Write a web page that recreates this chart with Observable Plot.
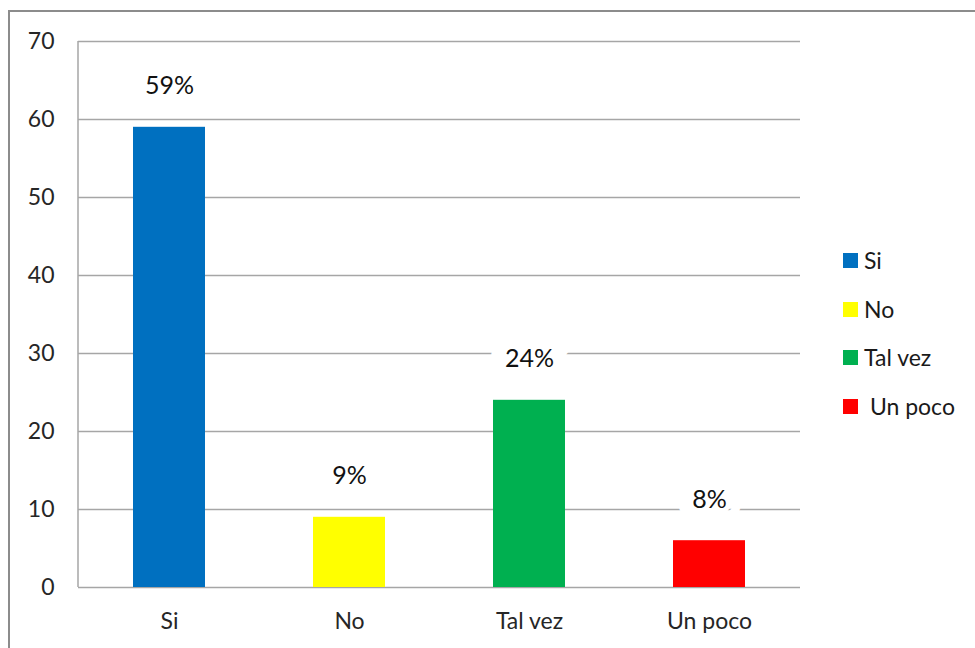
<!DOCTYPE html>
<html>
<head>
<meta charset="utf-8">
<script src="https://cdn.jsdelivr.net/npm/d3@7"></script>
<script src="https://cdn.jsdelivr.net/npm/@observablehq/plot@0.6"></script>
<style>
  html, body { margin: 0; padding: 0; background: #fff; }
  #wrap { position: relative; width: 975px; height: 648px; overflow: hidden; font-family: Lato, "Open Sans", sans-serif; }
  #frame { position: absolute; left: 8px; top: 10px; width: 1000px; height: 700px; border-left: 2px solid #8c8c8c; border-top: 2px solid #8c8c8c; box-sizing: border-box; }
  #chart { position: absolute; left: 0; top: 0; }
  #legend { position: absolute; left: 843px; top: 248px; width: 130px; }
  .lg-swatches { font-family: Lato, "Open Sans", sans-serif !important; font-size: 23px !important; color: #1a1a1a !important; }
  .lg-swatch { height: 48.5px !important; padding: 0 !important; margin: 0 !important; display: flex !important; align-items: flex-start !important; line-height: 24px !important; overflow: visible !important; }
  .lg-swatch * { overflow: visible !important; text-overflow: clip !important; white-space: pre !important; }
  .lg-swatch svg { margin-right: 6px !important; margin-top: 5px !important; flex-shrink: 0; }
</style>
</head>
<body>
<div id="wrap">
  <div id="frame"></div>
  <div id="chart"></div>
  <div id="legend"></div>
</div>
<script>
const categories = ["Si", "No", "Tal vez", "Un poco"];
const values = [59, 9, 24, 6];
const labels = ["59%", "9%", "24%", "8%"];
const legendLabels = ["Si", "No", "Tal vez", "\u00a0Un poco"];
const colors = ["#0070C0", "#FFFF00", "#00B050", "#FF0000"];
const yTicks = [0, 10, 20, 30, 40, 50, 60, 70];

const data = categories.map((c, i) => ({category: c, value: values[i], label: labels[i]}));

const fontFamily = "Lato, 'Open Sans', sans-serif";

// left axis line drawn from the y scale and the plot's own margins
const leftAxisLine = (index, {y}, values, {marginLeft}) =>
  d3.create("svg:line")
    .attr("x1", marginLeft).attr("x2", marginLeft)
    .attr("y1", y(0)).attr("y2", y(70))
    .attr("stroke", "#a6a6a6").attr("stroke-width", 1.5)
    .node();

const chart = Plot.plot({
  width: 975,
  height: 648,
  marginLeft: 78,
  marginRight: 175,
  marginTop: 41,
  marginBottom: 61,
  style: {fontFamily, fontSize: "23px", color: "#262626", background: "transparent", overflow: "visible"},
  x: {domain: categories, paddingInner: 0.6, paddingOuter: 0.3, label: null},
  y: {domain: [0, 70], label: null},
  color: {domain: categories, range: colors},
  marks: [
    Plot.ruleY(yTicks, {stroke: "#a6a6a6", strokeWidth: 1.5}),
    leftAxisLine,
    Plot.barY(data, {x: "category", y: "value", fill: "category"}),
    Plot.text(data, {
      x: "category", y: "value", text: "label", dy: -41,
      fontSize: 25, fill: "#111", lineAnchor: "middle",
      stroke: "white", strokeWidth: 30, paintOrder: "stroke", strokeLinejoin: "miter"
    }),
    Plot.axisY(yTicks, {tickSize: 0, tickPadding: 24, tickFormat: d => String(d), fontSize: 23, fill: "#262626"}),
    Plot.axisX({tickSize: 0, tickPadding: 25, fontSize: 23, fill: "#262626"})
  ]
});
document.getElementById("chart").appendChild(chart);

const legend = Plot.legend({
  color: {domain: categories, range: colors},
  legend: "swatches",
  swatchSize: 15,
  columns: 1,
  className: "lg",
  tickFormat: d => legendLabels[categories.indexOf(d)]
});
document.getElementById("legend").appendChild(legend);
</script>
</body>
</html>
